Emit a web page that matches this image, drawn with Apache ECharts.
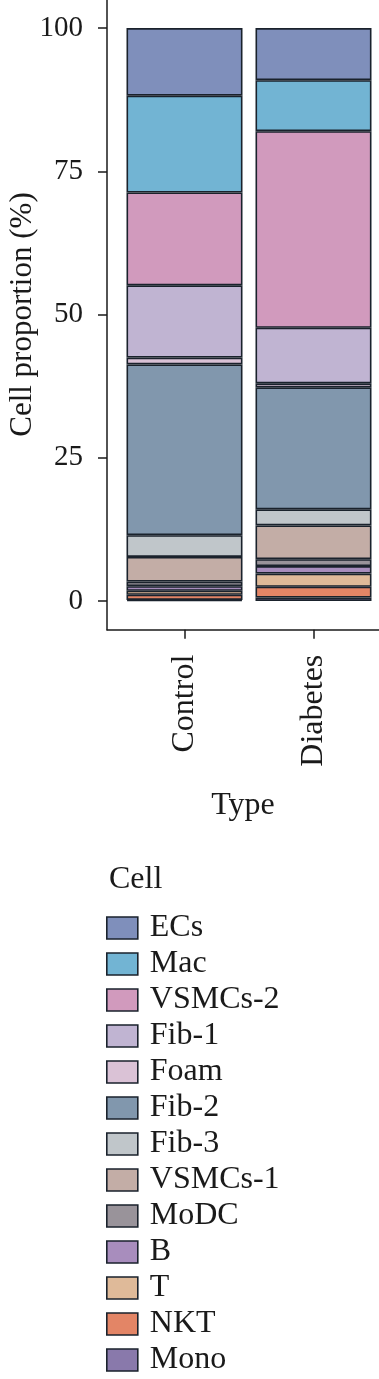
<!DOCTYPE html>
<html>
<head>
<meta charset="utf-8">
<script src="https://cdn.jsdelivr.net/npm/echarts@6/dist/echarts.min.js"></script>
<style>
html,body{margin:0;padding:0;background:#fff;}
#chart{width:379px;height:1379px;}
</style>
</head>
<body>
<div id="chart"></div>
<script>
// Categories (x axis)
const categories = ['Control', 'Diabetes'];
// Cell types, legend order (top of stack first)
const cellTypes = ['ECs','Mac','VSMCs-2','Fib-1','Foam','Fib-2','Fib-3','VSMCs-1','MoDC','B','T','NKT','Mono'];
// Proportions (%) per cell type: [Control, Diabetes]
const ECs     = [11.8, 9.1];
const Mac     = [16.9, 8.9];
const VSMCs2  = [16.2, 34.3];
const Fib1    = [12.6, 9.7];
const Foam    = [1.2, 0.7];
const Fib2    = [29.8, 21.3];
const Fib3    = [3.8, 2.8];
const VSMCs1  = [4.3, 5.9];
const MoDC    = [0.8, 1.2];
const B       = [0.8, 1.3];
const T       = [0.7, 2.3];
const NKT     = [0.9, 1.9];
const Mono    = [0.2, 0.6];
const yTicks = [0, 25, 50, 75, 100];

const valuesByType = {
  'ECs': ECs, 'Mac': Mac, 'VSMCs-2': VSMCs2, 'Fib-1': Fib1, 'Foam': Foam,
  'Fib-2': Fib2, 'Fib-3': Fib3, 'VSMCs-1': VSMCs1, 'MoDC': MoDC, 'B': B,
  'T': T, 'NKT': NKT, 'Mono': Mono
};
const colors = {
  'ECs':'#7f8fbb','Mac':'#72b4d3','VSMCs-2':'#d19abd','Fib-1':'#c0b4d2','Foam':'#dac2d6',
  'Fib-2':'#8197ad','Fib-3':'#c0c6ca','VSMCs-1':'#c3ada6','MoDC':'#99939a','B':'#a88dbd',
  'T':'#dfba99','NKT':'#e38566','Mono':'#8979ab'
};
const FONT = 'Liberation Serif';
const INK = '#1a1a1a';
const EDGE = '#1a222c';

// stack bottom (Mono) to top (ECs)
const stackOrder = cellTypes.slice().reverse();
const series = stackOrder.map(name => ({
  name: name,
  type: 'bar',
  stack: 'total',
  xAxisIndex: 0, yAxisIndex: 0,
  barWidth: 116,
  data: valuesByType[name],
  itemStyle: { color: colors[name], borderColor: EDGE, borderWidth: 1.6 },
  emphasis: { disabled: true }
}));

const chart = echarts.init(document.getElementById('chart'), null, { renderer: 'canvas' });
chart.setOption({
  animation: false,
  backgroundColor: '#ffffff',
  title: {
    text: 'Cell', left: 109, top: 864, padding: 0,
    textStyle: { fontFamily: FONT, fontSize: 32, fontWeight: 'normal', color: INK }
  },
  grid: [
    { left: 120, width: 258, top: -0.6, height: 630.3, containLabel: false, outerBoundsMode: 'none' },
    { left: 107, right: 0, top: -0.6, height: 630.3, containLabel: false, outerBoundsMode: 'none' }
  ],
  xAxis: [
    {
      type: 'category', gridIndex: 0, data: categories, position: 'bottom',
      axisLine: { show: false, onZero: false },
      axisTick: { show: true, alignWithLabel: true, length: 9, lineStyle: { color: INK, width: 1.5 } },
      axisLabel: { rotate: 90, margin: 25, fontFamily: FONT, fontSize: 32, color: INK },
      splitLine: { show: false }
    },
    {
      type: 'value', gridIndex: 1, min: 0, max: 1,
      name: 'Type', nameLocation: 'middle', nameGap: 160, nameMoveOverlap: false,
      nameTextStyle: { fontFamily: FONT, fontSize: 32, color: INK },
      axisLine: { show: true, onZero: false, lineStyle: { color: INK, width: 1.5 } },
      axisTick: { show: false }, axisLabel: { show: false }, splitLine: { show: false }
    }
  ],
  yAxis: [
    {
      type: 'value', gridIndex: 0, min: -5, max: 105, offset: 13,
      name: 'Cell proportion (%)', nameLocation: 'middle', nameGap: 69, nameMoveOverlap: false,
      nameTextStyle: { fontFamily: FONT, fontSize: 31, color: INK },
      splitLine: { show: false },
      axisLine: { show: true, onZero: false, lineStyle: { color: INK, width: 1.5 } },
      axisTick: { show: true, length: 9, customValues: yTicks, lineStyle: { color: INK, width: 1.5 } },
      axisLabel: { customValues: yTicks, margin: 24, fontFamily: FONT, fontSize: 29, color: INK }
    },
    { type: 'value', gridIndex: 1, min: -5, max: 105, show: false }
  ],
  legend: {
    data: cellTypes,
    orient: 'vertical',
    left: 106, top: 912,
    padding: 0,
    icon: 'rect',
    itemWidth: 31, itemHeight: 22,
    itemGap: 4,
    selectedMode: false,
    itemStyle: { borderColor: EDGE, borderWidth: 1.6 },
    textStyle: { fontFamily: FONT, fontSize: 32, color: INK, padding: [0, 0, 0, 7] }
  },
  series: series
});
</script>
</body>
</html>
